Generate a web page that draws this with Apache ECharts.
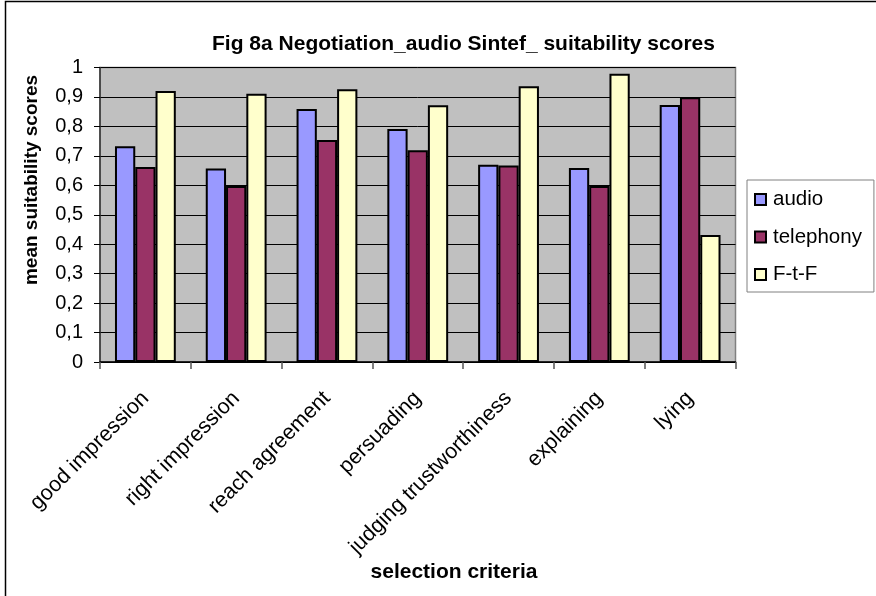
<!DOCTYPE html>
<html>
<head>
<meta charset="utf-8">
<script src="https://cdn.jsdelivr.net/npm/echarts@6/dist/echarts.min.js"></script>
<style>
  html, body { margin: 0; padding: 0; background: #fff; }
  #chart { width: 876px; height: 596px; }
</style>
</head>
<body>
<div id="chart"></div>
<script>
// Selection criteria along the category axis
const categories = [
  'good impression', 'right impression', 'reach agreement', 'persuading',
  'judging trustworthiness', 'explaining', 'lying'
];

// Mean suitability score per medium
const audio      = [0.733, 0.657, 0.859, 0.791, 0.670, 0.659, 0.873];
const telephony  = [0.662, 0.598, 0.754, 0.719, 0.667, 0.598, 0.899];
const faceToFace = [0.920, 0.911, 0.926, 0.872, 0.936, 0.979, 0.431];

const seriesNames = ['audio', 'telephony', 'F-t-F'];
const seriesColors = ['#9999FF', '#993366', '#FFFFCC'];
const seriesData = [audio, telephony, faceToFace];

const FONT = '"Liberation Sans", Arial, Helvetica, sans-serif';

const chart = echarts.init(document.getElementById('chart'), null, { renderer: 'canvas' });

chart.setOption({
  backgroundColor: '#ffffff',
  animation: false,
  textStyle: { fontFamily: FONT, color: '#000' },
  grid: {
    left: 100, top: 67.5, right: 140.5, bottom: 234,
    show: true,
    backgroundColor: '#C0C0C0',
    borderColor: '#808080',
    borderWidth: 1.5
  },
  legend: {
    orient: 'vertical',
    left: 747, top: 180,
    padding: [9, 12, 7, 7],
    backgroundColor: '#ffffff',
    borderColor: '#808080',
    borderWidth: 1,
    borderRadius: 0,
    itemWidth: 11, itemHeight: 11,
    itemGap: 16.5,
    icon: 'rect',
    itemStyle: { borderColor: '#000', borderWidth: 2 },
    textStyle: { fontFamily: FONT, fontSize: 20.5, color: '#000', lineHeight: 20, padding: [0, 0, 0, 2] },
    data: seriesNames
  },
  xAxis: {
    type: 'category',
    data: categories,
    boundaryGap: true,
    axisLine: { lineStyle: { color: '#000', width: 1.5 } },
    axisTick: { show: true, length: 7, lineStyle: { color: '#555', width: 1.5 } },
    axisLabel: {
      rotate: 45, interval: 0, margin: 33,
      fontFamily: FONT, fontSize: 21.5, color: '#000'
    },
    splitLine: { show: false }
  },
  yAxis: {
    type: 'value',
    min: 0, max: 1, interval: 0.1,
    axisLine: { show: true, lineStyle: { color: '#333', width: 1.5 } },
    axisTick: { show: true, length: 6, lineStyle: { color: '#000', width: 1 } },
    axisLabel: {
      margin: 17,
      fontFamily: FONT, fontSize: 20, color: '#000',
      formatter: v => String(Math.round(v * 10) / 10).replace('.', ',')
    },
    splitLine: { show: true, lineStyle: { color: '#000', width: 1 } }
  },
  series: seriesNames.map((name, i) => ({
    name: name,
    type: 'bar',
    data: seriesData[i],
    barGap: '0%',
    barCategoryGap: '33%',
    itemStyle: { color: seriesColors[i], borderColor: '#000', borderWidth: 2 }
  })),
  graphic: [
    {
      // outer frame
      type: 'rect', silent: true,
      shape: { x: 5.5, y: 1.5, width: 880, height: 610 },
      style: { fill: null, stroke: '#000', lineWidth: 1.5 }
    },
    {
      type: 'text', silent: true,
      x: 463.5, y: 44,
      style: {
        text: 'Fig 8a Negotiation_audio Sintef_ suitability scores',
        font: 'bold 21px ' + FONT, fill: '#000',
        textAlign: 'center', textVerticalAlign: 'middle'
      }
    },
    {
      type: 'text', silent: true,
      x: 32, y: 180, rotation: Math.PI / 2,
      style: {
        text: 'mean suitability scores',
        font: 'bold 19px ' + FONT, fill: '#000',
        textAlign: 'center', textVerticalAlign: 'middle'
      }
    },
    {
      type: 'text', silent: true,
      x: 454, y: 572,
      style: {
        text: 'selection criteria',
        font: 'bold 21px ' + FONT, fill: '#000',
        textAlign: 'center', textVerticalAlign: 'middle'
      }
    }
  ]
});
</script>
</body>
</html>
